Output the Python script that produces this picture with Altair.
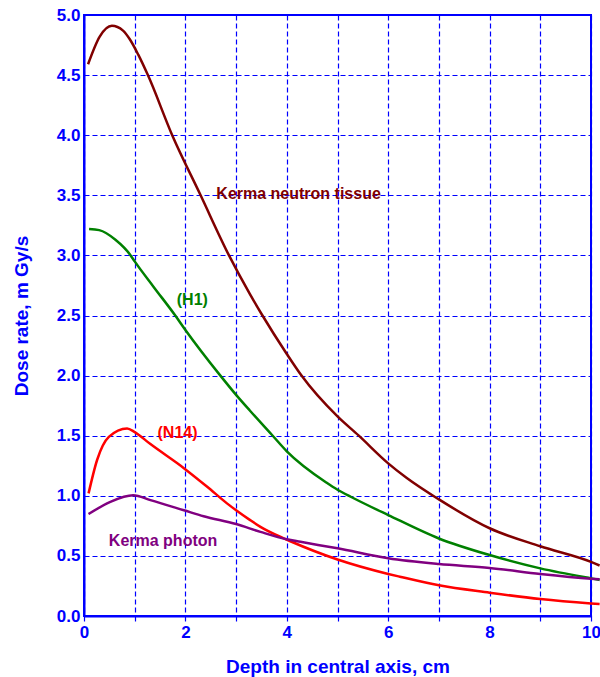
import altair as alt
import pandas as pd

# ---- data ----
neutron_x = [0.08, 0.31, 0.55, 0.77, 0.90, 1.07, 1.26, 1.74, 2.30, 2.86, 3.27, 3.52, 4.00,
             4.29, 5.00, 5.42, 6.00, 6.36, 7.00, 8.00, 9.00, 10.00, 10.17]
neutron_y = [4.59, 4.82, 4.91, 4.87, 4.80, 4.67, 4.50, 4.00, 3.50, 3.00, 2.68, 2.50, 2.18,
             2.00, 1.66, 1.50, 1.27, 1.15, 0.97, 0.73, 0.58, 0.45, 0.42]

h1_x = [0.10, 0.30, 0.62, 0.92, 1.00, 1.37, 1.80, 2.00, 2.69, 3.00, 3.27, 3.70, 4.00, 4.78,
        5.00, 5.27, 6.00, 7.00, 8.00, 9.00, 10.00, 10.17]
h1_y = [3.22, 3.21, 3.13, 3.00, 2.95, 2.74, 2.50, 2.38, 2.00, 1.84, 1.71, 1.51, 1.37, 1.11,
        1.05, 0.99, 0.84, 0.645, 0.507, 0.396, 0.313, 0.30]

n14_x = [0.09, 0.26, 0.49, 0.85, 1.00, 1.31, 1.97, 2.43, 2.82, 3.00, 3.27, 3.48, 3.94, 4.07,
         5.00, 6.00, 6.23, 7.00, 8.00, 9.00, 10.00, 10.17]
n14_y = [1.02, 1.30, 1.49, 1.56, 1.53, 1.43, 1.23, 1.075, 0.937, 0.88, 0.80, 0.742, 0.646, 0.622,
         0.47, 0.35, 0.327, 0.255, 0.194, 0.141, 0.105, 0.10]

photon_x = [0.09, 0.52, 0.97, 1.31, 1.97, 2.36, 3.00, 3.48, 4.00, 4.27, 5.00, 6.00, 7.00, 8.00,
            9.00, 10.00, 10.17]
photon_y = [0.848, 0.95, 1.005, 0.964, 0.88, 0.83, 0.765, 0.70, 0.638, 0.617, 0.563, 0.48, 0.432,
            0.40, 0.35, 0.31, 0.305]

series_names = ["Kerma neutron tissue", "(H1)", "(N14)", "Kerma photon"]
series_colors = ["#800000", "#008000", "#ff0000", "#800080"]

label_text = ["Kerma neutron tissue", "(H1)", "(N14)", "Kerma photon"]
label_x = [2.61, 1.83, 1.45, 0.49]
label_y = [3.51, 2.63, 1.52, 0.62]

x_tick_values = [0, 1, 2, 3, 4, 5, 6, 7, 8, 9, 10]
y_tick_values = [0.0, 0.5, 1.0, 1.5, 2.0, 2.5, 3.0, 3.5, 4.0, 4.5, 5.0]

# ---- build tables ----
rows = []
for name, xs, ys in zip(series_names, [neutron_x, h1_x, n14_x, photon_x],
                        [neutron_y, h1_y, n14_y, photon_y]):
    for i, (a, b) in enumerate(zip(xs, ys)):
        rows.append({"series": name, "depth": a, "dose": b, "order": i})
df = pd.DataFrame(rows)
labels = pd.DataFrame({"series": series_names, "text": label_text, "depth": label_x, "dose": label_y})

BLUE = "#0000ff"
FONT = "Liberation Sans"

color_scale = alt.Scale(domain=series_names, range=series_colors)

x_enc = alt.X(
    "depth:Q",
    scale=alt.Scale(domain=[0, 10], nice=False),
    axis=alt.Axis(
        values=x_tick_values,
        labelExpr="datum.value % 2 == 0 ? datum.label : ''",
        title="Depth in central axis, cm",
        grid=True, gridColor=BLUE, gridDash=[5, 3], gridWidth=1.2,
        domainColor=BLUE, domainWidth=2,
        ticks=True, tickColor=BLUE, tickSize=5, tickWidth=1.2,
        labelColor=BLUE, labelFont=FONT, labelFontSize=17, labelFontWeight="bold",
        labelPadding=3, labelFlush=False, labelOverlap=False,
        titleColor=BLUE, titleFont=FONT, titleFontSize=19, titleFontWeight="bold",
        titlePadding=17,
    ),
)
y_enc = alt.Y(
    "dose:Q",
    scale=alt.Scale(domain=[0, 5], nice=False),
    axis=alt.Axis(
        values=y_tick_values,
        format=".1f",
        title="Dose rate, m Gy/s",
        grid=True, gridColor=BLUE, gridDash=[5, 3], gridWidth=1.2,
        domainColor=BLUE, domainWidth=2,
        ticks=False,
        labelColor=BLUE, labelFont=FONT, labelFontSize=17, labelFontWeight="bold",
        labelPadding=4, labelFlush=False, labelOverlap=False,
        titleColor=BLUE, titleFont=FONT, titleFontSize=19, titleFontWeight="bold",
        titlePadding=25,
    ),
)

lines = alt.Chart(df).mark_line(strokeWidth=2.5, interpolate="monotone", clip=False).encode(
    x=x_enc,
    y=y_enc,
    color=alt.Color("series:N", scale=color_scale, legend=None),
    order="order:Q",
    detail="series:N",
)

texts = alt.Chart(labels).mark_text(
    align="left", baseline="middle", font=FONT, fontSize=16, fontWeight="bold"
).encode(
    x="depth:Q",
    y="dose:Q",
    text="text:N",
    color=alt.Color("series:N", scale=color_scale, legend=None),
)

chart = alt.layer(lines, texts).properties(
    width=507,
    height=601,
    padding={"left": 84, "top": 15, "right": 9, "bottom": 61},
    autosize=alt.AutoSizeParams(type="none"),
    background="white",
).configure_view(stroke=BLUE, strokeWidth=2)

chart.save("out.html", embed_options={"renderer": "svg", "actions": False})
